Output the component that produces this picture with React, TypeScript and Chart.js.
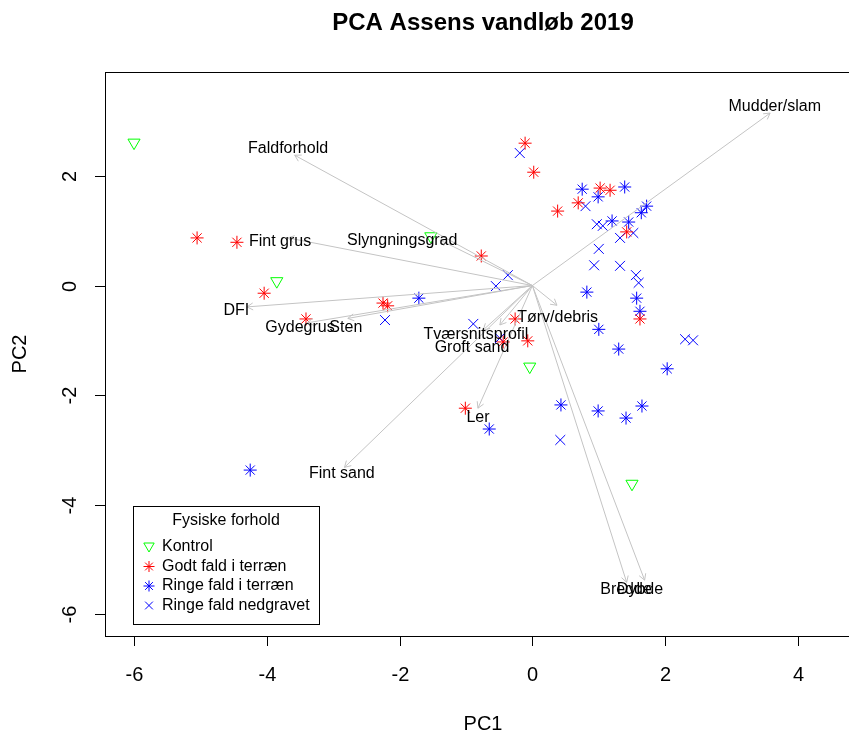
import React, { useEffect, useRef } from 'react';
import { Chart, registerables } from 'chart.js';

Chart.register(...registerables);

// ---------- Data ----------
const titleText = 'PCA Assens vandløb 2019';
const xAxisTitle = 'PC1';
const yAxisTitle = 'PC2';
const legendTitle = 'Fysiske forhold';

const xTicks = [-6, -4, -2, 0, 2, 4];
const yTicks = [-6, -4, -2, 0, 2];

// Kontrol (green, open down-triangle)
const kontrolX = [-6.0, -3.85, -1.53, -0.04, 1.5];
const kontrolY = [2.61, 0.08, 0.9, -1.48, -3.62];

// Godt fald i terræn (red asterisk)
const godtX = [-5.05, -4.45, -4.04, -3.41, -2.25, -2.18, -0.11, 0.02, 0.38, 0.69, 1.02, 1.17, 1.42, -0.77, -0.26, -0.07, -0.44, -1.01, 1.62];
const godtY = [0.87, 0.79, -0.14, -0.61, -0.32, -0.37, 2.6, 2.07, 1.36, 1.51, 1.78, 1.74, 0.98, 0.54, -0.61, -1.01, -1.03, -2.24, -0.61];

// Ringe fald i terræn (blue asterisk)
const ringeX = [-4.25, -1.71, 0.75, 0.99, 1.39, 1.2, 1.45, 1.64, 1.72, 0.82, 1.57, 1.62, 1.0, 1.3, 2.03, 0.43, 0.99, 1.41, 1.65, -0.65];
const ringeY = [-3.37, -0.23, 1.76, 1.62, 1.8, 1.18, 1.16, 1.33, 1.45, -0.12, -0.23, -0.47, -0.8, -1.16, -1.52, -2.18, -2.29, -2.42, -2.2, -2.62];

// Ringe fald nedgravet (blue x)
const nedgravetX = [-2.22, -0.19, 0.8, 0.97, 1.06, 1.32, 1.52, 1.0, 0.93, 1.32, 1.56, 1.6, -0.37, -0.55, -0.89, -0.49, 2.3, 2.42, 0.42];
const nedgravetY = [-0.63, 2.42, 1.45, 1.12, 1.09, 0.87, 0.96, 0.67, 0.37, 0.36, 0.19, 0.05, 0.19, -0.01, -0.7, -0.96, -0.98, -1.0, -2.82];

// Loadings (arrow tips) and their label positions
const loadingNames = ['Mudder/slam', 'Faldforhold', 'Slyngningsgrad', 'Fint grus', 'DFI', 'Gydegrus', 'Sten', 'Tværsnitsprofil', 'Groft sand', 'Tørv/debris', 'Ler', 'Fint sand', 'Bredde', 'Dybde'];
const loadingX = [3.58, -3.58, -1.39, -3.68, -4.3, -3.39, -2.78, -0.49, -0.74, 0.37, -0.82, -2.83, 1.42, 1.69];
const loadingY = [3.15, 2.38, 0.83, 0.87, -0.39, -0.68, -0.6, -0.72, -0.81, -0.36, -2.24, -3.32, -5.42, -5.38];
const labelX = [3.65, -3.68, -1.96, -3.8, -4.46, -3.5, -2.81, -0.85, -0.91, 0.38, -0.82, -2.87, 1.41, 1.62];
const labelY = [3.26, 2.51, 0.83, 0.81, -0.45, -0.76, -0.76, -0.9, -1.14, -0.58, -2.42, -3.44, -5.56, -5.56];

const legendLabels = ['Kontrol', 'Godt fald i terræn', 'Ringe fald i terræn', 'Ringe fald nedgravet'];

// ---------- Styles ----------
const FONT = "'Liberation Sans', Arial, sans-serif";
const GREEN = '#00ff00';
const RED = '#ff0000';
const BLUE = '#0000ff';
const ARROW = '#c4c4c4';

const zip = (xs: number[], ys: number[]) => xs.map((x, i) => ({ x, y: ys[i] }));

function drawSymbol(ctx: CanvasRenderingContext2D, kind: string, cx: number, cy: number, r: number, color: string) {
  ctx.save();
  ctx.strokeStyle = color;
  ctx.lineWidth = 1;
  ctx.beginPath();
  if (kind === 'tri') {
    ctx.moveTo(cx - r * 0.866, cy - r * 0.5);
    ctx.lineTo(cx + r * 0.866, cy - r * 0.5);
    ctx.lineTo(cx, cy + r);
    ctx.closePath();
  } else {
    const d = r * 0.7071;
    ctx.moveTo(cx - d, cy - d); ctx.lineTo(cx + d, cy + d);
    ctx.moveTo(cx - d, cy + d); ctx.lineTo(cx + d, cy - d);
    if (kind === 'star') {
      ctx.moveTo(cx - r, cy); ctx.lineTo(cx + r, cy);
      ctx.moveTo(cx, cy - r); ctx.lineTo(cx, cy + r);
    }
  }
  ctx.stroke();
  ctx.restore();
}

const decorPlugin = {
  id: 'decor',
  afterDatasetsDraw(chart: any) {
    const { ctx, scales } = chart;
    const xs = scales.x, ys = scales.y;
    const ox = xs.getPixelForValue(0), oy = ys.getPixelForValue(0);
    ctx.save();
    // arrowheads
    ctx.strokeStyle = ARROW;
    ctx.lineWidth = 1;
    loadingX.forEach((lx, i) => {
      const tx = xs.getPixelForValue(lx), ty = ys.getPixelForValue(loadingY[i]);
      const ang = Math.atan2(ty - oy, tx - ox);
      const len = 7, a = Math.PI / 6;
      ctx.beginPath();
      ctx.moveTo(tx - len * Math.cos(ang - a), ty - len * Math.sin(ang - a));
      ctx.lineTo(tx, ty);
      ctx.lineTo(tx - len * Math.cos(ang + a), ty - len * Math.sin(ang + a));
      ctx.stroke();
    });
    // labels
    ctx.fillStyle = '#000';
    ctx.font = `16px ${FONT}`;
    ctx.textAlign = 'center';
    ctx.textBaseline = 'middle';
    loadingNames.forEach((n, i) => {
      ctx.fillText(n, xs.getPixelForValue(labelX[i]), ys.getPixelForValue(labelY[i]));
    });
    ctx.restore();
  },
  afterDraw(chart: any) {
    const { ctx, chartArea, scales } = chart;
    const { left, top, right, bottom } = chartArea;
    const xs = scales.x, ys = scales.y;
    ctx.save();
    // box
    ctx.strokeStyle = '#000';
    ctx.lineWidth = 1;
    ctx.strokeRect(Math.round(left) + 0.5, Math.round(top) + 0.5, Math.round(right - left), Math.round(bottom - top));
    // x ticks
    ctx.fillStyle = '#000';
    ctx.font = `20px ${FONT}`;
    ctx.textAlign = 'center';
    ctx.textBaseline = 'middle';
    xTicks.forEach((v) => {
      const px = Math.round(xs.getPixelForValue(v)) + 0.5;
      ctx.beginPath();
      ctx.moveTo(px, bottom);
      ctx.lineTo(px, bottom + 10);
      ctx.stroke();
      ctx.fillText(String(v), px, bottom + 39);
    });
    // y ticks
    yTicks.forEach((v) => {
      const py = Math.round(ys.getPixelForValue(v)) + 0.5;
      ctx.beginPath();
      ctx.moveTo(left, py);
      ctx.lineTo(left - 10, py);
      ctx.stroke();
      ctx.save();
      ctx.translate(left - 35, py);
      ctx.rotate(-Math.PI / 2);
      ctx.fillText(String(v), 0, 0);
      ctx.restore();
    });
    // axis titles
    const cx = (left + right) / 2, cy = (top + bottom) / 2;
    ctx.fillText(xAxisTitle, cx, bottom + 88);
    ctx.save();
    ctx.translate(20, cy);
    ctx.rotate(-Math.PI / 2);
    ctx.fillText(yAxisTitle, 0, 0);
    ctx.restore();
    // title
    ctx.font = `bold 24px ${FONT}`;
    ctx.fillText(titleText, cx, 23);

    // legend
    const lx = left + 28, lw = 186, lh = 118;
    const ly = bottom - 12 - lh;
    ctx.strokeStyle = '#000';
    ctx.strokeRect(Math.round(lx) + 0.5, Math.round(ly) + 0.5, lw, lh);
    ctx.font = `16px ${FONT}`;
    ctx.fillStyle = '#000';
    ctx.textAlign = 'center';
    ctx.fillText(legendTitle, lx + lw / 2, ly + 15);
    const kinds = ['tri', 'star', 'star', 'x'];
    const cols = [GREEN, RED, BLUE, BLUE];
    ctx.textAlign = 'left';
    legendLabels.forEach((t, i) => {
      const ry = ly + 41 + i * 19.5;
      drawSymbol(ctx, kinds[i], lx + 16, kinds[i] === 'tri' ? ry - 1 : ry, kinds[i] === 'tri' ? 6 : 5.5, cols[i]);
      ctx.fillStyle = '#000';
      ctx.fillText(t, lx + 29, ry);
    });
    ctx.restore();
  },
};

export default function App() {
  const ref = useRef<HTMLCanvasElement | null>(null);
  useEffect(() => {
    if (!ref.current) return;
    const arrowSets = loadingX.map((lx, i) => ({
      type: 'scatter' as const,
      label: loadingNames[i],
      data: [{ x: 0, y: 0 }, { x: lx, y: loadingY[i] }],
      showLine: true,
      borderColor: ARROW,
      borderWidth: 1,
      pointRadius: 0,
      order: 1,
    }));
    const chart = new Chart(ref.current, {
      type: 'scatter',
      data: {
        datasets: [
          {
            label: legendLabels[0],
            data: zip(kontrolX, kontrolY),
            pointStyle: 'triangle',
            rotation: 180,
            radius: 7,
            borderColor: GREEN,
            backgroundColor: 'rgba(0,0,0,0)',
            borderWidth: 1,
            order: 2,
          },
          {
            label: legendLabels[1],
            data: zip(godtX, godtY),
            pointStyle: 'star',
            radius: 6.5,
            borderColor: RED,
            backgroundColor: RED,
            borderWidth: 1,
            order: 2,
          },
          {
            label: legendLabels[2],
            data: zip(ringeX, ringeY),
            pointStyle: 'star',
            radius: 6.5,
            borderColor: BLUE,
            backgroundColor: BLUE,
            borderWidth: 1,
            order: 2,
          },
          {
            label: legendLabels[3],
            data: zip(nedgravetX, nedgravetY),
            pointStyle: 'crossRot',
            radius: 7,
            borderColor: BLUE,
            backgroundColor: BLUE,
            borderWidth: 1,
            order: 2,
          },
          ...arrowSets,
        ] as any,
      },
      options: {
        animation: false,
        responsive: false,
        devicePixelRatio: 1,
        layout: { padding: { left: 105, top: 72, right: 9, bottom: 97 } },
        plugins: { legend: { display: false }, tooltip: { enabled: false }, title: { display: false } },
        events: [],
        scales: {
          x: { type: 'linear', min: -6.437, max: 4.949, display: false },
          y: { type: 'linear', min: -6.40, max: 3.90, display: false },
        },
      },
      plugins: [decorPlugin],
    });
    return () => chart.destroy();
  }, []);
  return (
    <div style={{ position: 'absolute', left: 0, top: 0, width: 849, height: 733, overflow: 'hidden', background: '#fff' }}>
      <canvas ref={ref} width={870} height={733} style={{ display: 'block', width: 870, height: 733 }} />
    </div>
  );
}
